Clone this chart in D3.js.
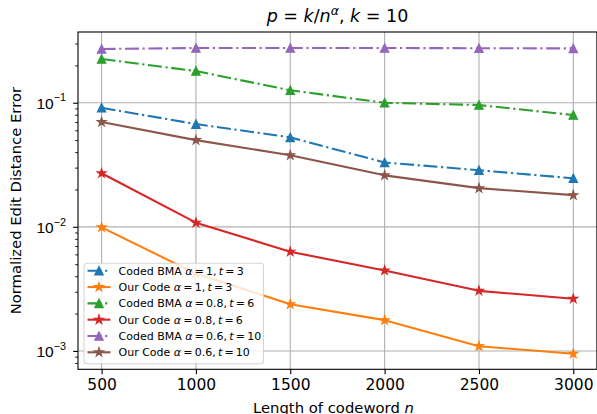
<!DOCTYPE html>
<html>
<head>
<meta charset="utf-8">
<script src="https://cdn.jsdelivr.net/npm/d3@7"></script>
<style>
  html, body { margin: 0; padding: 0; background: #fff; }
  svg { display: block; font-family: "DejaVu Sans", sans-serif; }
</style>
</head>
<body>
<svg id="chart" width="597" height="414"></svg>
<script>
// ---- data ----
const nValues = [500, 1000, 1500, 2000, 2500, 3000];
const codedBMA_a1_t3   = [0.091, 0.0673, 0.0526, 0.033, 0.0286, 0.0246];
const ourCode_a1_t3    = [0.0099, 0.0042, 0.00238, 0.00177, 0.00109, 0.00095];
const codedBMA_a08_t6  = [0.225, 0.18, 0.126, 0.1, 0.0958, 0.0796];
const ourCode_a08_t6   = [0.027, 0.0108, 0.0063, 0.00445, 0.00305, 0.00263];
const codedBMA_a06_t10 = [0.271, 0.276, 0.276, 0.276, 0.275, 0.274];
const ourCode_a06_t10  = [0.0699, 0.05, 0.0378, 0.026, 0.0205, 0.018];

const TS = "\u2009";
const seriesNames = [
  ["Coded BMA ", "α", TS + "=" + TS + "1," + TS, "t", TS + "=" + TS + "3"],
  ["Our Code ", "α", TS + "=" + TS + "1," + TS, "t", TS + "=" + TS + "3"],
  ["Coded BMA ", "α", TS + "=" + TS + "0.8," + TS, "t", TS + "=" + TS + "6"],
  ["Our Code ", "α", TS + "=" + TS + "0.8," + TS, "t", TS + "=" + TS + "6"],
  ["Coded BMA ", "α", TS + "=" + TS + "0.6," + TS, "t", TS + "=" + TS + "10"],
  ["Our Code ", "α", TS + "=" + TS + "0.6," + TS, "t", TS + "=" + TS + "10"]
];
const xTickValues = [500, 1000, 1500, 2000, 2500, 3000];
const yTickExponents = [-3, -2, -1];

// ---- styles ----
const colors = ["#1f77b4", "#ff7f0e", "#2ca02c", "#d62728", "#9467bd", "#8c564b"];
const markers = ["tri", "star", "tri", "star", "tri", "star"];
const dashed = [true, false, true, false, true, false];
const seriesValues = [codedBMA_a1_t3, ourCode_a1_t3, codedBMA_a08_t6, ourCode_a08_t6, codedBMA_a06_t10, ourCode_a06_t10];

const svg = d3.select("#chart");
const L = 78, R = 596.9, T = 32, B = 369.3;

const x = d3.scaleLinear().domain([375, 3125]).range([L, R]);
const y = d3.scaleLog().domain([Math.pow(10, -3.148), Math.pow(10, -0.43)]).range([B, T]);

const LW = 2.1;
const dashPattern = "14,3.6,2.2,3.6";

// grid
const gridG = svg.append("g");
xTickValues.forEach(v => {
  gridG.append("line").attr("x1", x(v)).attr("x2", x(v)).attr("y1", T).attr("y2", B)
    .attr("stroke", "#b0b0b0").attr("stroke-width", 1.1);
});
yTickExponents.forEach(e => {
  const yy = y(Math.pow(10, e));
  gridG.append("line").attr("x1", L).attr("x2", R).attr("y1", yy).attr("y2", yy)
    .attr("stroke", "#b0b0b0").attr("stroke-width", 1.1);
});

// markers
function markerPath(kind) {
  if (kind === "tri") {
    const s = 4.2;
    return `M0,${-s}L${s},${s}L${-s},${s}Z`;
  } else {
    const ro = 4.6, ri = ro * 0.381966;
    let p = "";
    for (let i = 0; i < 10; i++) {
      const r = i % 2 === 0 ? ro : ri;
      const a = -Math.PI / 2 + i * Math.PI / 5;
      p += (i === 0 ? "M" : "L") + (r * Math.cos(a)).toFixed(3) + "," + (r * Math.sin(a)).toFixed(3);
    }
    return p + "Z";
  }
}

// series
const line = d3.line().x((d, i) => x(nValues[i])).y(d => y(d));
seriesValues.forEach((vals, si) => {
  const g = svg.append("g");
  g.append("path").attr("d", line(vals)).attr("fill", "none")
    .attr("stroke", colors[si]).attr("stroke-width", LW)
    .attr("stroke-linejoin", "round")
    .attr("stroke-dasharray", dashed[si] ? dashPattern : null);
  g.selectAll("path.m").data(vals).enter().append("path").attr("class", "m")
    .attr("d", markerPath(markers[si]))
    .attr("transform", (d, i) => `translate(${x(nValues[i])},${y(d)})`)
    .attr("fill", colors[si]).attr("stroke", colors[si]).attr("stroke-width", 1.2)
    .attr("stroke-linejoin", "miter");
});

// axes via d3
const xAxis = d3.axisBottom(x).tickValues(xTickValues).tickSize(4.9).tickPadding(4.5).tickFormat(d3.format("d"));
const gx = svg.append("g").attr("transform", `translate(0,${B})`).call(xAxis);
gx.select(".domain").remove();
gx.selectAll(".tick line").attr("stroke", "#000").attr("stroke-width", 1.1);
gx.selectAll(".tick text").attr("font-size", 15.5).attr("font-family", "DejaVu Sans").attr("fill", "#000");

// y minor ticks
const minorTicks = [];
for (let e = -4; e <= 0; e++) {
  for (let m = 2; m <= 9; m++) {
    const v = m * Math.pow(10, e);
    if (v >= y.domain()[0] && v <= y.domain()[1]) minorTicks.push(v);
  }
}
const yMinor = d3.axisLeft(y).tickValues(minorTicks).tickSize(2.8).tickFormat("");
const gym = svg.append("g").attr("transform", `translate(${L},0)`).call(yMinor);
gym.select(".domain").remove();
gym.selectAll(".tick line").attr("stroke", "#000").attr("stroke-width", 0.9);

const yMajor = d3.axisLeft(y).tickValues(yTickExponents.map(e => Math.pow(10, e))).tickSize(4.9).tickFormat("");
const gy = svg.append("g").attr("transform", `translate(${L},0)`).call(yMajor);
gy.select(".domain").remove();
gy.selectAll(".tick line").attr("stroke", "#000").attr("stroke-width", 1.1);
gy.selectAll(".tick").each(function(d) {
  const e = Math.round(Math.log10(d));
  const t = d3.select(this).append("text").attr("x", -12).attr("y", 5.4)
    .attr("text-anchor", "end").attr("fill", "#000").attr("font-size", 15.5);
  t.append("tspan").text("10");
  t.append("tspan").attr("font-size", 10.8).attr("dy", -7.2).text("−" + Math.abs(e));
});

// spines
svg.append("rect").attr("x", L).attr("y", T).attr("width", R - L).attr("height", B - T)
  .attr("fill", "none").attr("stroke", "#000").attr("stroke-width", 1.1);

// title
const title = svg.append("text").attr("x", (L + R) / 2).attr("y", 22).attr("text-anchor", "middle")
  .attr("font-size", 17.5).attr("fill", "#000");
title.append("tspan").attr("font-style", "italic").text("p");
title.append("tspan").text(" = ");
title.append("tspan").attr("font-style", "italic").text("k");
title.append("tspan").text("/");
title.append("tspan").attr("font-style", "italic").text("n");
title.append("tspan").attr("font-style", "italic").attr("font-size", 12.5).attr("dy", -7).text("α");
title.append("tspan").attr("dy", 7).text(", ");
title.append("tspan").attr("font-style", "italic").text("k");
title.append("tspan").text(" = 10");

// axis labels
const xl = svg.append("text").attr("x", (L + R) / 2 - 4).attr("y", 412.5).attr("text-anchor", "middle")
  .attr("font-size", 14.8).attr("fill", "#000");
xl.append("tspan").text("Length of codeword ");
xl.append("tspan").attr("font-style", "italic").text("n");

svg.append("text").attr("transform", `translate(20.5,${(T + B) / 2}) rotate(-90)`)
  .attr("text-anchor", "middle").attr("font-size", 14.8).attr("fill", "#000")
  .text("Normalized Edit Distance Error");

// legend
const lg = svg.append("g");
const lgX = 84, lgY = 263.3, lgW = 179.5, lgH = 100.5;
lg.append("rect").attr("x", lgX).attr("y", lgY).attr("width", lgW).attr("height", lgH)
  .attr("rx", 3).attr("fill", "#fff").attr("fill-opacity", 0.8)
  .attr("stroke", "#cccccc").attr("stroke-opacity", 0.8).attr("stroke-width", 1.1);
const rowY0 = 270.7, rowStep = 16.32;
seriesNames.forEach((parts, si) => {
  const yy = rowY0 + si * rowStep;
  lg.append("line").attr("x1", 87.5).attr("x2", 110.5).attr("y1", yy).attr("y2", yy)
    .attr("stroke", colors[si]).attr("stroke-width", LW)
    .attr("stroke-dasharray", dashed[si] ? dashPattern : null);
  lg.append("path").attr("d", markerPath(markers[si]))
    .attr("transform", `translate(99,${yy})`)
    .attr("fill", colors[si]).attr("stroke", colors[si]).attr("stroke-width", 1.2);
  const t = lg.append("text").attr("x", 118.5).attr("y", yy + 4).attr("font-size", 11)
    .attr("fill", "#000");
  parts.forEach((p, pi) => {
    t.append("tspan").attr("font-style", (pi === 1 || pi === 3) ? "italic" : null).text(p);
  });
});
</script>
</body>
</html>
